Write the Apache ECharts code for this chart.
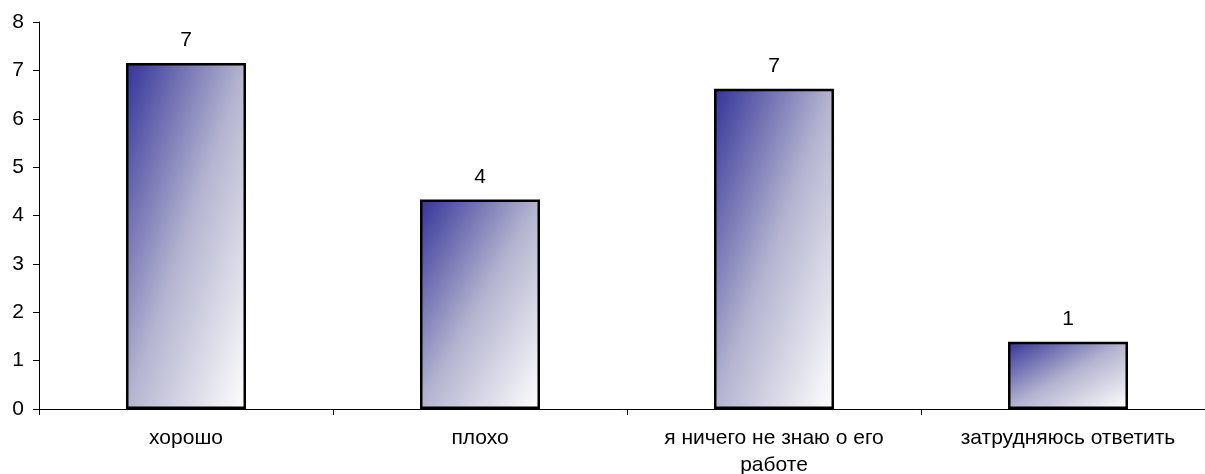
<!DOCTYPE html>
<html><head><meta charset="utf-8">
<script src="https://cdn.jsdelivr.net/npm/echarts@6/dist/echarts.min.js"></script>
<style>html,body{margin:0;padding:0;background:#fff;overflow:hidden}#c{width:1205px;height:474px}</style>
</head><body><div id="c"></div>
<script>
var categories = ['хорошо', 'плохо', 'я ничего не знаю о его работе', 'затрудняюсь ответить'];
var values = [7.15, 4.33, 6.62, 1.39];
var yTicks = [0, 1, 2, 3, 4, 5, 6, 7, 8];

var FONT = 'Liberation Sans, Arial, sans-serif';
var FS = 21;
var chart = echarts.init(document.getElementById('c'));

var measureCtx = document.createElement('canvas').getContext('2d');
measureCtx.font = FS + 'px ' + FONT;
function wrap(text, maxW) {
  var words = text.split(' '), lines = [], cur = '';
  words.forEach(function (w) {
    var t = cur ? cur + ' ' + w : w;
    if (cur && measureCtx.measureText(t).width > maxW) { lines.push(cur); cur = w; }
    else cur = t;
  });
  if (cur) lines.push(cur);
  return lines.join('\n');
}

function gradientFor(w, h) {
  var s = w * w + h * h;
  return new echarts.graphic.LinearGradient(0, 0, 2 * h * h / s, 2 * w * w / s, [
    { offset: 0, color: '#333399' },
    { offset: 0.5, color: '#b4b4d0' },
    { offset: 1, color: '#ffffff' }
  ]);
}

var barWidth = 120;
var option = {
  animation: false,
  textStyle: { fontFamily: FONT },
  grid: { left: 39, top: 22, bottom: 65, width: 1176, containLabel: false, outerBoundsMode: 'none' },
  xAxis: {
    type: 'category', data: categories,
    axisLine: { lineStyle: { color: '#000', width: 1 } },
    axisTick: { show: true, length: 6, lineStyle: { color: '#000' } },
    axisLabel: { color: '#000', fontSize: FS, fontFamily: FONT, margin: 16, lineHeight: 27, interval: 0,
      formatter: function (v) { return wrap(v, 285); } }
  },
  yAxis: {
    type: 'value', min: yTicks[0], max: yTicks[yTicks.length - 1], interval: 1,
    splitLine: { show: false },
    axisLine: { show: true, lineStyle: { color: '#000', width: 1 } },
    axisTick: { show: true, length: 6, lineStyle: { color: '#000' } },
    axisLabel: { color: '#000', fontSize: FS, fontFamily: FONT, margin: 15 }
  },
  series: [{
    type: 'bar', barWidth: barWidth,
    data: values.map(function (v) { return { value: v }; }),
    itemStyle: { borderColor: '#000', borderWidth: 2.5, color: '#333399' },
    label: {
      show: true, position: 'top', distance: 12, color: '#000', fontSize: FS, fontFamily: FONT,
      formatter: function (p) { return Math.round(p.value); }
    }
  }]
};
chart.setOption(option);

var zeroY = chart.convertToPixel({ gridIndex: 0 }, [0, 0])[1];
option.series[0].data = values.map(function (v, i) {
  var topY = chart.convertToPixel({ gridIndex: 0 }, [i, v])[1];
  return { value: v, itemStyle: { color: gradientFor(barWidth, Math.abs(zeroY - topY)) } };
});
chart.setOption(option);
</script></body></html>
